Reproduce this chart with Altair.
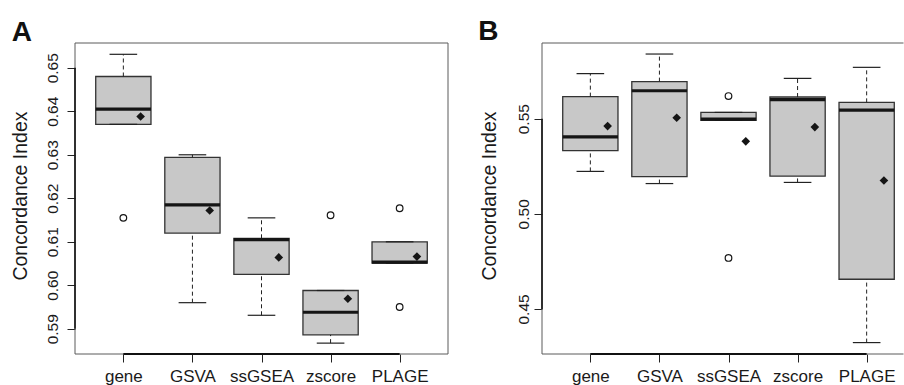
import json
import altair as alt
import pandas as pd

# ---------------- data ----------------
categories = ["gene", "GSVA", "ssGSEA", "zscore", "PLAGE"]

# Panel A
a_low = [0.6370, 0.5960, 0.5931, 0.5867, 0.6051]
a_q1 = [0.6370, 0.6120, 0.6025, 0.5886, 0.6051]
a_med = [0.6405, 0.6185, 0.6105, 0.5938, 0.6053]
a_q3 = [0.6480, 0.6294, 0.6108, 0.5988, 0.6100]
a_high = [0.6531, 0.6300, 0.6155, 0.5988, 0.6100]
a_mean = [0.6388, 0.6172, 0.6064, 0.5969, 0.6066]
a_out_cat = ["gene", "zscore", "PLAGE", "PLAGE"]
a_out_val = [0.6155, 0.6161, 0.6177, 0.5950]
a_ticks = [0.59, 0.60, 0.61, 0.62, 0.63, 0.64, 0.65]
a_ydom = [0.5842, 0.6557]

# Panel B
b_low = [0.5223, 0.5159, 0.5491, 0.5165, 0.4323]
b_q1 = [0.5332, 0.5196, 0.5491, 0.5198, 0.4656]
b_med = [0.5405, 0.5647, 0.5498, 0.5600, 0.5545]
b_q3 = [0.5616, 0.5695, 0.5533, 0.5614, 0.5586]
b_high = [0.5737, 0.5840, 0.5533, 0.5712, 0.5770]
b_mean = [0.5461, 0.5505, 0.5381, 0.5456, 0.5175]
b_out_cat = ["ssGSEA", "ssGSEA"]
b_out_val = [0.5619, 0.4768]
b_ticks = [0.45, 0.50, 0.55]
b_ydom = [0.4263, 0.5898]

# ---------------- layout ----------------
W_A = 373
W_B = 362
H = 311
PX_UNIT = W_A / 5.4
FONT = "Liberation Sans"
BOX_FILL = "#c8c8c8"
DARK = "#222222"
FRAME = "#5a5a5a"


def panel(letter, low, q1, med, q3, high, mean, out_cat, out_val, ticks, ydom,
          width, lab_pad, title_x, letter_x, letter_y, right_frame, anchor):
    idx = list(range(1, len(categories) + 1))
    xdom = [0.3, 0.3 + width / PX_UNIT]
    box = pd.DataFrame(dict(cat=categories, idx=idx, low=low, q1=q1, med=med,
                            q3=q3, high=high, mean=mean))
    pos = {c: i + 1 for i, c in enumerate(categories)}
    out = pd.DataFrame(dict(cat=out_cat, val=out_val))
    out["idx"] = out["cat"].map(pos)

    label_expr = json.dumps(categories) + "[datum.value - 1]"
    xs = alt.Scale(domain=xdom, nice=False, zero=False)
    ys = alt.Scale(domain=ydom, nice=False, zero=False)
    xaxis = alt.Axis(values=idx, labelExpr=label_expr, domain=False, grid=False,
                     tickSize=8, tickColor=DARK, tickWidth=1, labelFontSize=17,
                     labelColor="#1a1a1a", labelBaseline="alphabetic",
                     labelPadding=19.6, labelFlush=False, labelOverlap=False,
                     title=None, labelFont=FONT)
    yaxis = alt.Axis(values=ticks, format=".2f", domain=False, grid=False,
                     tickSize=8, tickColor=DARK, tickWidth=1, labelAngle=270,
                     labelAlign="center", labelBaseline="alphabetic",
                     labelPadding=lab_pad, labelFontSize=15.5, labelColor="#1a1a1a",
                     labelFlush=False, labelOverlap=False, labelFont=FONT,
                     title="Concordance Index", titleFontSize=19.5,
                     titleFontWeight="normal", titleAngle=270, titleAlign="center",
                     titleBaseline="alphabetic", titleX=title_x, titleY=152.5,
                     titleColor="#1a1a1a", titleFont=FONT)

    def X(f):
        return alt.X(f, type="quantitative", scale=xs, axis=xaxis)

    def Y(f):
        return alt.Y(f, type="quantitative", scale=ys, axis=yaxis)

    base = alt.Chart(box).transform_calculate(
        left="datum.idx - 0.4", right="datum.idx + 0.4",
        capl="datum.idx - 0.2", capr="datum.idx + 0.2", mx="datum.idx + 0.25")

    whisk_up = base.mark_rule(color=DARK, strokeWidth=1, strokeDash=[4, 3]).encode(
        x=X("idx"), y=Y("q3"), y2="high")
    whisk_lo = base.mark_rule(color=DARK, strokeWidth=1, strokeDash=[4, 3]).encode(
        x=X("idx"), y=Y("low"), y2="q1")
    cap_up = base.mark_rule(color=DARK, strokeWidth=1.2).encode(
        x=X("capl"), x2="capr", y=Y("high"))
    cap_lo = base.mark_rule(color=DARK, strokeWidth=1.2).encode(
        x=X("capl"), x2="capr", y=Y("low"))
    boxes = base.mark_rect(fill=BOX_FILL, stroke="#333333", strokeWidth=1.3).encode(
        x=X("left"), x2="right", y=Y("q1"), y2="q3")
    medians = base.mark_rule(color="#151515", strokeWidth=3.2).encode(
        x=X("left"), x2="right", y=Y("med"))
    means = base.mark_point(shape="diamond", filled=True, size=75, color="#151515",
                            opacity=1).encode(x=X("mx"), y=Y("mean"))
    outs = alt.Chart(out).mark_point(shape="circle", filled=False, size=44,
                                     color="#151515", strokeWidth=1.2,
                                     opacity=1).encode(x=X("idx"), y=Y("val"))

    one = pd.DataFrame({"k": [0]})
    yline = alt.Chart(pd.DataFrame({"y0": [ticks[0]], "y1": [ticks[-1]]})).mark_rule(
        color="#111111", strokeWidth=1.6).encode(x=alt.value(0), y=Y("y0"), y2="y1")
    xline = alt.Chart(pd.DataFrame({"x0": [idx[0]], "x1": [idx[-1]]})).mark_rule(
        color="#111111", strokeWidth=1.8).encode(x=X("x0"), x2="x1", y=alt.value(H))

    right_end = width if right_frame else width - 0.5
    frames = [
        alt.Chart(one).mark_rule(color=FRAME, strokeWidth=1).encode(
            x=alt.value(0), x2=alt.value(right_end), y=alt.value(0), y2=alt.value(0)),
        alt.Chart(one).mark_rule(color=FRAME, strokeWidth=1).encode(
            x=alt.value(0), x2=alt.value(right_end), y=alt.value(H), y2=alt.value(H)),
        alt.Chart(one).mark_rule(color=FRAME, strokeWidth=1).encode(
            x=alt.value(0), x2=alt.value(0), y=alt.value(0), y2=alt.value(H)),
    ]
    if right_frame:
        frames.append(alt.Chart(one).mark_rule(color=FRAME, strokeWidth=1).encode(
            x=alt.value(width), x2=alt.value(width), y=alt.value(0), y2=alt.value(H)))

    letter_mark = alt.Chart(pd.DataFrame({"t": [letter]})).mark_text(
        align="left", baseline="alphabetic", fontSize=28, fontWeight="bold",
        font=FONT, color="#111111").encode(
        text="t:N", x=alt.value(letter_x), y=alt.value(letter_y))

    layers = [boxes, whisk_up, whisk_lo, cap_up, cap_lo, medians, outs, means,
              *frames, yline, xline, letter_mark]
    if anchor:
        layers.append(alt.Chart(one).mark_rule(opacity=0, strokeWidth=0).encode(
            x=alt.value(-75), x2=alt.value(-75), y=alt.value(-42.7), y2=alt.value(-42.7)))
    return alt.layer(*layers).properties(width=width, height=H)


panel_a = panel("A", a_low, a_q1, a_med, a_q3, a_high, a_mean, a_out_cat, a_out_val,
                a_ticks, a_ydom, W_A, lab_pad=10, title_x=-48.3,
                letter_x=-63.3, letter_y=-2, right_frame=True, anchor=True)
panel_b = panel("B", b_low, b_q1, b_med, b_q3, b_high, b_mean, b_out_cat, b_out_val,
                b_ticks, b_ydom, W_B, lab_pad=6, title_x=-46.7,
                letter_x=-63.7, letter_y=-3.4, right_frame=False, anchor=False)

chart = alt.hconcat(panel_a, panel_b, spacing=94, bounds="flush").properties(
    padding=0, background="white"
).configure_view(stroke=None).configure_axis(grid=False)

chart.save("out.html", embed_options={"renderer": "svg", "actions": False})
